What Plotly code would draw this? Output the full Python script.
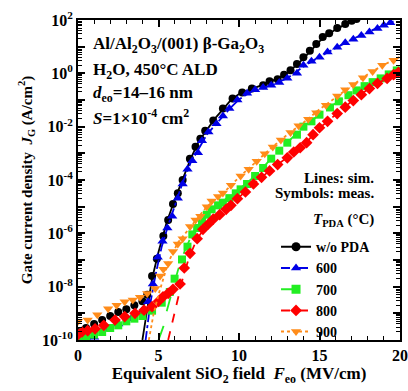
import plotly.graph_objects as go

# ---------------- data (log10 of J_G in A/cm^2) ----------------
# measured (symbols)
wo_x = [0.0,0.5,1.0,1.5,2.0,2.5,3.0,3.5,4.0,4.3,4.6,4.9,5.3,5.6,5.9,6.2,6.5,6.95,7.3,7.6,7.9,8.4,9.0,9.6,10.2,10.8,11.5,11.9,12.4,12.8,13.2,13.6,14.0,14.4,14.8,15.2,15.6,16.1,16.6,17.0,17.3]
wo_logy = [-9.7,-9.55,-9.4,-9.25,-9.1,-8.95,-8.85,-8.7,-8.55,-8.3,-7.6,-6.95,-6.1,-5.5,-4.9,-4.5,-4.0,-3.2,-2.75,-2.45,-2.15,-1.77,-1.32,-0.94,-0.72,-0.57,-0.45,-0.3,-0.22,-0.05,0.12,0.35,0.6,0.85,1.1,1.36,1.5,1.7,1.85,1.97,2.04]

p600_x = [0.0,0.5,1.0,1.7,2.5,3.3,4.0,4.35,4.65,4.95,5.25,5.55,5.85,6.2,6.5,6.8,7.1,7.45,7.7,8.1,8.6,9.0,9.4,9.9,10.5,11.0,11.5,12.0,12.5,13.0,13.6,14.0,14.5,15.0,15.5,16.1,16.6,17.1,17.6,18.1,18.6,19.0,19.4]
p600_logy = [-10.0,-9.9,-9.9,-9.6,-9.4,-9.2,-8.9,-8.57,-7.9,-6.9,-6.3,-5.8,-5.36,-4.68,-4.15,-3.6,-3.28,-2.98,-2.53,-2.2,-1.89,-1.6,-1.32,-1.0,-0.75,-0.62,-0.53,-0.45,-0.34,-0.18,0.0,0.3,0.45,0.6,0.8,0.98,1.15,1.28,1.42,1.55,1.68,1.8,1.9]

p700_x = [0.0,0.5,1.0,1.5,2.0,2.5,3.0,3.5,4.0,4.6,5.2,5.7,6.0,6.46,6.8,7.1,7.4,7.7,8.0,8.3,8.7,9.0,9.4,9.8,10.1,10.5,11.0,11.5,12.0,12.5,13.0,13.6,14.0,14.5,15.0,15.65,16.2,16.8,17.3,17.8,18.3,18.8,19.3,19.8]
p700_logy = [-10.0,-9.9,-9.8,-9.7,-9.55,-9.45,-9.3,-9.2,-9.1,-8.9,-8.6,-8.2,-7.7,-6.98,-6.5,-6.04,-5.8,-5.55,-5.3,-5.1,-4.95,-4.85,-4.68,-4.5,-4.35,-4.15,-3.85,-3.55,-3.2,-2.9,-2.6,-2.3,-2.0,-1.8,-1.55,-1.28,-1.05,-0.82,-0.64,-0.48,-0.33,-0.19,-0.04,0.11]

p800_x = [0.0,0.25,0.6,1.06,1.6,2.3,2.9,3.54,4.1,4.6,5.0,5.28,5.6,5.9,6.34,6.6,6.96,7.4,7.76,8.1,8.4,8.8,9.2,9.5,9.9,10.4,10.9,11.4,11.9,12.4,13.0,13.4,13.8,14.2,14.6,15.0,15.5,16.1,16.6,17.1,17.6,18.1,18.6,19.2,19.6,19.9]
p800_logy = [-9.8,-9.7,-9.65,-9.58,-9.45,-9.25,-9.12,-9.0,-8.88,-8.75,-8.55,-8.38,-8.25,-8.1,-7.9,-7.3,-6.75,-6.2,-5.85,-5.65,-5.47,-5.3,-5.1,-4.95,-4.7,-4.45,-4.15,-3.9,-3.66,-3.42,-3.17,-2.95,-2.79,-2.6,-2.3,-2.04,-1.8,-1.51,-1.27,-1.02,-0.8,-0.57,-0.38,-0.19,-0.05,0.04]

p900_x = [0.0,0.6,1.2,1.87,2.4,2.9,3.4,3.85,4.3,4.8,5.1,5.3,5.6,5.9,6.2,6.5,6.96,7.3,7.6,8.0,8.3,8.7,9.0,9.5,10.1,10.6,11.1,11.6,12.1,12.6,13.2,13.7,14.3,14.8,15.4,16.1,16.6,17.1,17.7,18.3,18.9,19.6]
p900_logy = [-9.3,-9.25,-9.05,-8.83,-8.7,-8.57,-8.5,-8.4,-8.26,-8.07,-7.6,-7.35,-7.13,-6.68,-6.4,-6.2,-5.74,-5.5,-5.36,-5.0,-4.79,-4.62,-4.49,-4.2,-3.85,-3.6,-3.3,-3.02,-2.76,-2.5,-2.22,-1.97,-1.72,-1.48,-1.2,-0.85,-0.62,-0.42,-0.17,0.07,0.3,0.49]

# simulated (lines)
sim_wo_x = [4.0,4.3,4.6,5.0,5.5,6.0,6.5,7.0,7.5,8.0,8.5,9.0,9.5,10.0,11.0,12.0,13.0,14.0,15.0,16.0,17.0,17.4]
sim_wo_logy = [-10.0,-8.8,-7.7,-6.7,-5.6,-4.75,-4.0,-3.2,-2.55,-2.1,-1.7,-1.35,-1.0,-0.78,-0.55,-0.3,0.0,0.55,1.2,1.65,1.95,2.05]
sim_600_x = [4.2,4.5,4.8,5.2,5.6,6.0,6.5,7.0,7.5,8.0,8.5,9.0,9.5,10.0,10.5,11.0,12.0,13.0,14.0,15.0,16.0,17.0,18.0,19.0,19.6]
sim_600_logy = [-10.0,-8.6,-7.6,-6.5,-5.7,-5.0,-4.1,-3.35,-2.8,-2.3,-1.95,-1.6,-1.28,-0.98,-0.78,-0.62,-0.45,-0.18,0.25,0.62,0.95,1.27,1.55,1.8,1.95]
sim_700_x = [5.0,5.3,5.5,5.85,6.2,6.6,7.0,7.5,8.0,9.0,10.0,11.0,12.0,13.0,14.0,15.0,16.0,17.0,18.0,19.0,20.0]
sim_700_logy = [-10.0,-9.5,-8.94,-8.2,-7.4,-6.7,-6.15,-5.65,-5.3,-4.8,-4.35,-3.85,-3.2,-2.6,-2.0,-1.55,-1.12,-0.75,-0.42,-0.13,0.15]
sim_800_x = [5.6,5.9,6.2,6.5,6.9,7.4,8.0,9.0,10.0,11.0,12.0,13.0,14.0,15.0,16.0,17.0,18.0,19.0,20.0]
sim_800_logy = [-10.0,-9.2,-8.5,-7.7,-6.9,-6.2,-5.7,-5.15,-4.65,-4.1,-3.6,-3.15,-2.7,-2.05,-1.55,-1.05,-0.6,-0.25,0.1]
sim_900_x = [4.4,4.7,5.0,5.3,5.6,6.2,7.0,8.0,9.0,10.0,11.0,12.0,13.0,14.0,15.0,16.0,17.0,18.0,19.0,20.0]
sim_900_logy = [-10.0,-9.0,-8.3,-7.65,-7.1,-6.35,-5.75,-5.0,-4.5,-3.9,-3.35,-2.8,-2.3,-1.85,-1.35,-0.9,-0.47,-0.03,0.32,0.62]

series_names = ["w/o PDA", "600", "700", "800", "900"]
colors = ["#000000", "#0000e6", "#22ee22", "#ff0000", "#ff8c1a"]
symbols = ["circle", "triangle-up", "square", "diamond", "triangle-down"]
marker_sizes = [8, 9, 8, 9, 9]
dashes = ["solid", "dashdot", "longdash", "dash", "dot"]

x_tick_vals = [0, 5, 10, 15, 20]
x_tick_text = ["0", "5", "10", "15", "20"]
y_exponents = list(range(-10, 3))
y_tick_text = ["10<sup>%d</sup>" % e if e % 2 == 0 else "" for e in y_exponents]

meas = [(wo_x, wo_logy), (p600_x, p600_logy), (p700_x, p700_logy), (p800_x, p800_logy), (p900_x, p900_logy)]
sims = [(sim_wo_x, sim_wo_logy), (sim_600_x, sim_600_logy), (sim_700_x, sim_700_logy), (sim_800_x, sim_800_logy), (sim_900_x, sim_900_logy)]

FONT = "Liberation Serif"
def F(size):
    return dict(family=FONT, size=size, color="black", weight="bold")

fig = go.Figure()

for i in range(5):
    mx, my = meas[i]
    sx, sy = sims[i]
    fig.add_trace(go.Scatter(
        x=mx, y=[10 ** v for v in my], mode="markers",
        marker=dict(symbol=symbols[i], color=colors[i], size=marker_sizes[i], line=dict(width=0)),
        showlegend=False))
    fig.add_trace(go.Scatter(
        x=sx, y=[10 ** v for v in sy], mode="lines",
        line=dict(color=colors[i], width=1.8, dash=dashes[i]),
        showlegend=False))

# legend entries (line + symbol)
for i in range(5):
    fig.add_trace(go.Scatter(
        x=[None], y=[None], mode="lines+markers", name=series_names[i],
        marker=dict(symbol=symbols[i], color=colors[i], size=9),
        line=dict(color=colors[i], width=2, dash=dashes[i]),
        showlegend=True))

ann = []
info_lines = [
    ("Al/Al<sub>2</sub>O<sub>3</sub>/(001) β-Ga<sub>2</sub>O<sub>3</sub>", 0.922),
    ("H<sub>2</sub>O, 450°C ALD", 0.842),
    ("<i>d</i><sub>eo</sub>=14–16 nm", 0.768),
    ("<i>S</i>=1×10<sup>-4</sup> cm<sup>2</sup>", 0.696),
]
for t, yy in info_lines:
    ann.append(dict(text=t, x=0.04, y=yy, xref="paper", yref="paper",
                    xanchor="left", yanchor="middle", showarrow=False, font=F(17)))
for t, yy in [("Lines: sim.", 0.506), ("Symbols: meas.", 0.459),
              ("<i>T</i><sub>PDA</sub> (°C)", 0.375)]:
    ann.append(dict(text=t, x=0.925, y=yy, xref="paper", yref="paper",
                    xanchor="right", yanchor="middle", showarrow=False, font=F(15)))

fig.update_layout(
    width=408, height=391,
    margin=dict(l=78, r=8, t=20, b=51),
    paper_bgcolor="white", plot_bgcolor="white",
    font=F(14),
    annotations=ann,
    legend=dict(x=0.615, y=0.34, xanchor="left", yanchor="top",
                bgcolor="rgba(0,0,0,0)", borderwidth=0,
                font=F(14), itemwidth=30, tracegroupgap=0),
)
fig.update_xaxes(
    range=[0, 20], tickmode="array", tickvals=x_tick_vals, ticktext=x_tick_text,
    ticks="inside", ticklen=7, tickwidth=1.5, tickcolor="black",
    showline=True, linewidth=2, linecolor="black", mirror="allticks",
    showgrid=False, zeroline=False, automargin=False,
    minor=dict(ticks="inside", ticklen=4, tickwidth=1, dtick=1, tickcolor="black", showgrid=False),
    tickfont=F(16),
    title=dict(text="Equivalent SiO<sub>2</sub> field  <i>F</i><sub>eo</sub> (MV/cm)",
               font=F(17), standoff=4),
)
fig.update_yaxes(
    type="log", range=[-10, 2], tickmode="array",
    tickvals=[10 ** e for e in y_exponents], ticktext=y_tick_text,
    ticks="inside", ticklen=7, tickwidth=1.5, tickcolor="black",
    showline=True, linewidth=2, linecolor="black", mirror="allticks",
    showgrid=False, zeroline=False, automargin=False,
    minor=dict(ticks="inside", ticklen=4, tickwidth=1, dtick="D1", tickcolor="black", showgrid=False),
    tickfont=F(16),
    title=dict(text="Gate current density  <i>J</i><sub>G</sub> (A/cm<sup>2</sup>)",
               font=F(15), standoff=6),
)

# remove the default page margin so the figure fills the window exactly
fig.write_html("out.html",
               config={"displayModeBar": False},
               post_script="document.body.style.margin='0';document.body.style.overflow='hidden';")
